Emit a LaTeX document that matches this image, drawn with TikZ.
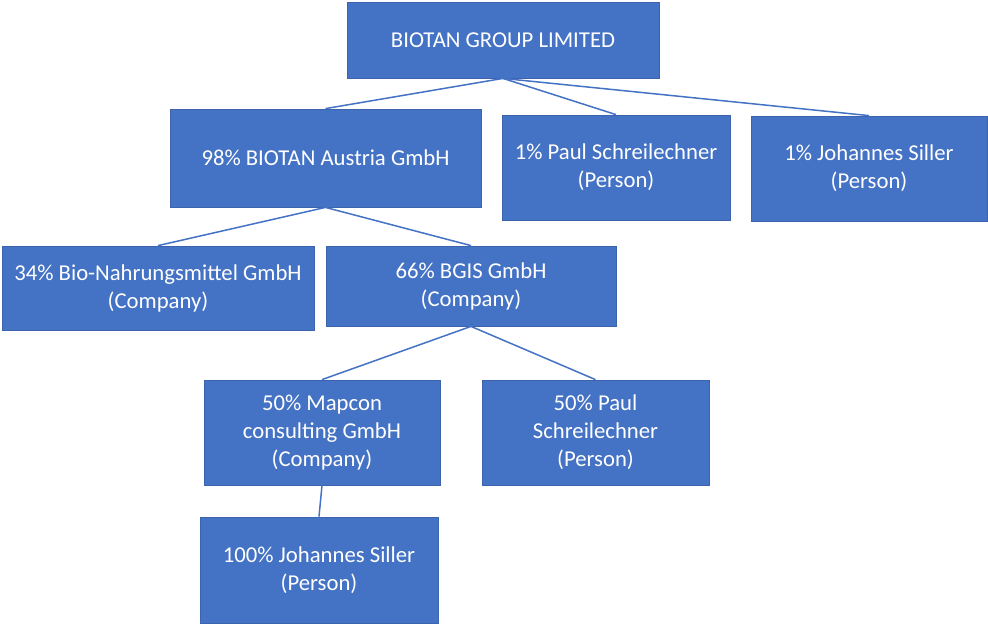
\documentclass[tikz,border=0pt]{standalone}
\usepackage{fontspec}
\setmainfont{Carlito}
\definecolor{boxblue}{HTML}{4472C4}
\definecolor{boxedge}{HTML}{3B64AD}
\begin{document}
\begin{tikzpicture}[x=1pt,y=-1pt,
  orgbox/.style={draw=boxedge,line width=0.8pt,fill=boxblue,text=white,align=center,
    font=\fontsize{22.7}{28}\selectfont},
  link/.style={draw=boxblue,line width=1.5pt}]
\useasboundingbox[fill=white] (0,0) rectangle (988,625);
\newcommand{\orgnode}[6]{\node[orgbox,minimum width=#4-#2,minimum height=#5-#3,inner sep=0pt] (#1) at ({(#2+#4)/2},{(#3+#5)/2}) {#6};}
\orgnode{top}{347}{2}{659}{78}{BIOTAN GROUP LIMITED}
\orgnode{aus}{170}{109}{481}{207}{98\% BIOTAN Austria GmbH}
\orgnode{paul}{502}{115}{730}{220}{1\% Paul Schreilechner\\(Person)}
\orgnode{jo}{751}{116}{987}{221}{1\% Johannes Siller\\(Person)}
\orgnode{bio}{2}{246}{314}{330}{34\% Bio-Nahrungsmittel GmbH\\(Company)}
\orgnode{bgis}{326}{246}{616}{326}{66\% BGIS GmbH\\(Company)}
\orgnode{map}{204}{380}{440}{485}{50\% Mapcon\\consulting GmbH\\(Company)}
\orgnode{paulb}{482}{380}{709}{485}{50\% Paul\\Schreilechner\\(Person)}
\orgnode{job}{200}{517}{438}{623}{100\% Johannes Siller\\(Person)}
\draw[link] (top.south) -- (aus.north);
\draw[link] (top.south) -- (paul.north);
\draw[link] (top.south) -- (jo.north);
\draw[link] (aus.south) -- (bio.north);
\draw[link] (aus.south) -- (bgis.north);
\draw[link] (bgis.south) -- (map.north);
\draw[link] (bgis.south) -- (paulb.north);
\draw[link] (map.south) -- (job.north);
\end{tikzpicture}
\end{document}
